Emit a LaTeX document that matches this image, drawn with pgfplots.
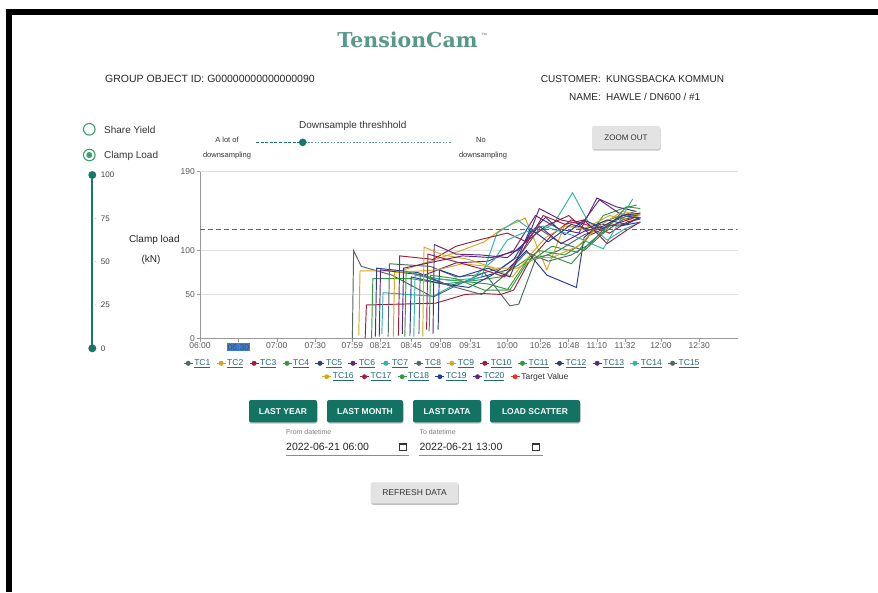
\documentclass[border=0pt]{standalone}
\usepackage{fontspec}
\setmainfont{Liberation Sans}
\newfontfamily\titlefont{DejaVu Serif Bold}
\usepackage{pgfplots}
\pgfplotsset{compat=1.18}
\definecolor{cA}{RGB}{84,104,104}
\definecolor{cB}{RGB}{218,165,32}
\definecolor{cC}{RGB}{160,30,60}
\definecolor{cD}{RGB}{50,155,60}
\definecolor{cE}{RGB}{40,60,150}
\definecolor{cF}{RGB}{95,40,125}
\definecolor{cG}{RGB}{50,180,170}
\definecolor{tgtred}{RGB}{235,45,45}
\definecolor{btn}{RGB}{18,115,98}
\definecolor{slider}{RGB}{25,118,105}
\definecolor{radio}{RGB}{60,160,110}
\definecolor{legtxt}{RGB}{35,105,120}
\definecolor{titlec}{RGB}{88,152,138}
\definecolor{hlblue}{RGB}{60,125,215}
\newcommand{\fs}[1]{\fontsize{#1}{#1}\selectfont}
\newcommand{\hlbox}[1]{{\setlength{\fboxsep}{1.2pt}\colorbox{hlblue}{\textcolor{black!70}{#1}}}}
\newcommand{\tc}[1]{\textcolor{legtxt}{\underline{TC#1}}}
\pgfplotsset{
  legend image code/.code={\draw[#1,solid,line width=0.8pt] (0pt,0pt) -- (9pt,0pt); \fill[#1,solid] (4.5pt,0pt) circle (2pt);},
  mylegend/.style={legend style={draw=none, fill=none, inner sep=0pt, row sep=0pt,
     font=\fs{8.5}, nodes={inner sep=1.2pt},
     /tikz/every even column/.append style={column sep=4.7pt}}}
}
\begin{document}
\begin{tikzpicture}
\useasboundingbox (0pt,0pt) rectangle (878pt,-592pt);
\fill[white] (0pt,0pt) rectangle (878pt,-592pt);
\begin{scope}[x=1pt,y=-1pt]
% frame
\fill[black] (6,9) rectangle (878,15);
\fill[black] (6,9) rectangle (12,592);
% title
\node[anchor=base, font=\titlefont\fs{20.5}, text=titlec, inner sep=0] at (407.5,47) {TensionCam};
\node[anchor=base west, font=\fs{6}, text=black!55, inner sep=0] at (481,37) {™};
% header
\node[anchor=base west, font=\fs{10.5}, text=black!85, inner sep=0] at (105,82.8) {GROUP OBJECT ID: G00000\relax 00000\relax 00000\relax 90};
\node[anchor=base east, font=\fs{10}, text=black!85, inner sep=0] at (601,82.6) {CUSTOMER:};
\node[anchor=base west, font=\fs{10}, text=black!85, inner sep=0] at (606,82.6) {KUNGSBACKA KOMMUN};
\node[anchor=base east, font=\fs{10}, text=black!85, inner sep=0] at (601,100.6) {NAME:};
\node[anchor=base west, font=\fs{10}, text=black!85, inner sep=0] at (606,100.6) {HAWLE / DN600 / \#1};
% radios
\draw[radio, line width=1.1pt] (89.3,129.3) circle (5.8pt);
\node[anchor=base west, font=\fs{10}, text=black!80, inner sep=0] at (104,133) {Share Yield};
\draw[radio, line width=1.1pt] (89.3,155) circle (5.8pt);
\fill[radio] (89.3,155) circle (3pt);
\node[anchor=base west, font=\fs{10}, text=black!80, inner sep=0] at (104,158.6) {Clamp Load};
% downsample slider
\node[anchor=base, font=\fs{10}, text=black!80, inner sep=0] at (352.7,128.6) {Downsample threshhold};
\node[anchor=base, font=\fs{7.5}, text=black!80, inner sep=0] at (227,142.7) {A lot of};
\node[anchor=base, font=\fs{7.5}, text=black!80, inner sep=0] at (227,157) {downsampling};
\node[anchor=base, font=\fs{7.5}, text=black!80, inner sep=0] at (481,142.7) {No};
\node[anchor=base, font=\fs{7.5}, text=black!80, inner sep=0] at (483,157) {downsampling};
\foreach \xx in {256,260.6,...,298} {\fill[slider] (\xx,141.5) rectangle (\xx+3,143.1);}
\foreach \xx in {305,308.2,...,450} {\fill[slider!75] (\xx,141.9) rectangle (\xx+1.6,142.7);}
\fill[slider] (302.7,142.3) circle (3.8pt);
% zoom out button
\fill[black!22, rounded corners=2pt] (592.5,127.5) rectangle (660.5,150.5);
\fill[black!11, rounded corners=2pt] (592,126) rectangle (660,149);
\node[font=\fs{8}, text=black!80] at (626,137.5) {ZOOM OUT};
% vertical slider
\draw[slider, line width=2.2pt] (92.3,175) -- (92.3,348.3);
\fill[slider] (92.3,175) circle (4pt);
\fill[slider] (92.3,348.3) circle (4pt);
\foreach \yy in {218.3,261.7,305} {\fill[slider!40] (95.2,\yy) circle (0.7pt);}
\node[anchor=base west, font=\fs{8}, text=black!75, inner sep=0] at (100.7,177.9) {100};
\node[anchor=base west, font=\fs{8}, text=black!75, inner sep=0] at (100.7,221.2) {75};
\node[anchor=base west, font=\fs{8}, text=black!75, inner sep=0] at (100.7,264.6) {50};
\node[anchor=base west, font=\fs{8}, text=black!75, inner sep=0] at (100.7,307.9) {25};
\node[anchor=base west, font=\fs{8}, text=black!75, inner sep=0] at (100.7,351.2) {0};
% y label
\node[anchor=base, font=\fs{10}, text=black!85, inner sep=0] at (154.3,242.9) {Clamp load};
\node[anchor=base, font=\fs{10}, text=black!85, inner sep=0] at (151,262.3) {(kN)};
% buttons
\foreach \xa/\xb/\lab in {249/317/LAST YEAR, 327/403/LAST MONTH, 413/481/LAST DATA, 490/580/LOAD SCATTER} {
  \fill[black!25, rounded corners=2pt] (\xa+0.5,401.5) rectangle (\xb+0.5,423.5);
  \fill[btn, rounded corners=2pt] (\xa,400) rectangle (\xb,422.3);
  \node[font=\bfseries\fs{8.5}, text=white] at ({(\xa+\xb)/2},411.2) {\lab};
}
% date fields
\node[anchor=base west, font=\fs{7}, text=black!50, inner sep=0] at (286,434) {From datetime};
\node[anchor=base west, font=\fs{10.5}, text=black!85, inner sep=0] at (286,450.5) {2022-06-21 06:00};
\draw[black!80, line width=0.9pt] (399.5,443) rectangle (406.5,450);
\fill[black!80] (399.5,443) rectangle (406.5,445);
\draw[black!45, line width=0.6pt] (286,455.7) -- (409.3,455.7);
\node[anchor=base west, font=\fs{7}, text=black!50, inner sep=0] at (419.3,434) {To datetime};
\node[anchor=base west, font=\fs{10.5}, text=black!85, inner sep=0] at (419.3,450.5) {2022-06-21 13:00};
\draw[black!80, line width=0.9pt] (532,443) rectangle (539,450);
\fill[black!80] (532,443) rectangle (539,445);
\draw[black!45, line width=0.6pt] (419.3,455.7) -- (542.7,455.7);
% refresh button
\fill[black!25, rounded corners=2pt] (371.2,483.8) rectangle (458.8,504.8);
\fill[black!11, rounded corners=2pt] (370.7,482.3) rectangle (458.3,503.3);
\node[font=\fs{8.5}, text=black!80] at (414.5,492.8) {REFRESH DATA};
\end{scope}

\begin{axis}[
  at={(200pt,-338.3pt)}, anchor=south west,
  width=537.7pt, height=166.6pt, scale only axis,
  xmin=0, xmax=420, ymin=0, ymax=190,
  axis x line*=bottom, axis y line*=left,
  axis line style={draw=black!40, -},
  ymajorgrids, grid style={draw=black!12, line width=0.6pt},
  ytick={0,50,100,190}, yticklabels={0,50,100,190},
  xtick={0,30,60,90,119,141,165,188,211,240,266,288,310,332,360,390},
  xticklabels={06:00,{\hlbox{06:30}},07:00,07:30,07:59,08:21,08:45,09:08,09:31,10:00,10:26,10:48,11:10,11:32,12:00,12:30},
  tick align=outside, major tick length=3.5pt,
  tick style={draw=black!40, line width=0.6pt},
  tick label style={font=\fs{8.5}, text=black!65},
  x tick label style={inner sep=1pt},
  y tick label style={inner sep=1.5pt},
  legend columns=15, mylegend,
  legend style={at={(axis description cs:0.45,-0.15)}, anchor=center},
  every axis plot/.append style={line width=0.95pt},
]
\addplot[cA] coordinates {(119,0)(120,100)(126,82)(150,72)(182,47)(200,60)(222,75)(242,37)(249,39)(262,90)(280,100)(300,118)(318,128)(332,130)(343,138)};
\addplot[cB] coordinates {(124,3)(125,77)(157,77)(180,88)(200,98)(222,110)(236,125)(254,137)(271,78)(285,130)(300,124)(315,120)(330,135)(343,142)};
\addplot[cC] coordinates {(129,0)(130,38)(184,40)(207,50)(221,51)(235,50)(245,55)(258,90)(275,118)(290,135)(305,128)(320,120)(334,133)(344,136)};
\addplot[cD] coordinates {(134,0)(135,68)(165,68)(190,62)(215,66)(235,70)(250,85)(265,100)(285,95)(300,110)(315,140)(330,148)(341,152)};
\addplot[cE] coordinates {(137,2)(138,80)(170,75)(195,60)(220,70)(240,78)(255,100)(271,72)(294,58)(300,115)(312,130)(328,128)(342,132)};
\addplot[cF] coordinates {(140,2)(141,78)(175,72)(200,86)(225,88)(245,100)(262,140)(280,125)(296,120)(310,160)(325,150)(340,145)};
\addplot[cG] coordinates {(142,5)(143,52)(182,48)(200,62)(220,70)(232,120)(248,135)(262,120)(276,130)(291,166)(305,128)(318,112)(332,125)(344,132)};
\addplot[cA] coordinates {(147,2)(148,85)(180,82)(200,70)(215,72)(235,80)(250,95)(265,125)(280,110)(300,100)(315,120)(330,135)(343,140)};
\addplot[cB] coordinates {(151,2)(152,75)(185,78)(205,85)(225,82)(244,70)(258,95)(270,115)(285,128)(300,125)(320,140)(335,135)(344,141)};
\addplot[cC] coordinates {(155,3)(156,94)(182,90)(200,105)(220,113)(240,120)(255,110)(270,128)(288,140)(305,118)(320,128)(340,138)};
\addplot[cD] coordinates {(160,2)(161,76)(185,68)(205,65)(225,62)(242,55)(255,85)(275,105)(295,98)(310,130)(325,138)(341,145)};
\addplot[cE] coordinates {(164,3)(165,70)(190,62)(210,58)(228,72)(245,90)(258,120)(270,138)(285,118)(300,135)(315,125)(330,140)(344,137)};
\addplot[cF] coordinates {(182,5)(183,107)(200,96)(220,95)(240,92)(255,110)(265,148)(282,135)(298,130)(312,158)(328,142)(342,140)};
\addplot[cG] coordinates {(167,2)(168,72)(195,66)(212,68)(230,90)(240,112)(252,120)(268,128)(290,118)(315,102)(338,159)};
\addplot[cA] coordinates {(171,5)(172,72)(195,60)(220,50)(238,72)(255,98)(272,88)(290,95)(305,108)(320,132)(335,140)(344,142)};
\addplot[cB] coordinates {(174,2)(175,104)(190,95)(210,90)(230,80)(248,80)(262,92)(275,92)(295,105)(312,128)(330,145)(343,140)};
\addplot[cC] coordinates {(177,10)(178,96)(198,88)(218,80)(238,70)(252,100)(268,140)(285,130)(300,135)(318,108)(332,122)(344,133)};
\addplot[cD] coordinates {(179,8)(180,72)(200,68)(222,55)(240,55)(256,90)(272,95)(290,85)(305,110)(318,125)(333,150)(344,148)};
\addplot[cE] coordinates {(186,10)(187,78)(203,70)(225,80)(242,70)(258,125)(272,110)(290,130)(302,125)(318,135)(333,130)(344,138)};
\addplot[cF] coordinates {(158,5)(159,80)(185,88)(205,94)(228,92)(248,100)(265,128)(282,108)(300,122)(315,128)(330,140)(344,143)};
\addplot[tgtred, line width=1.4pt, dash pattern=on 5pt off 3pt] coordinates {(0,124)(420,124)};
\legend{\tc{1},\tc{2},\tc{3},\tc{4},\tc{5},\tc{6},\tc{7},\tc{8},\tc{9},\tc{10},\tc{11},\tc{12},\tc{13},\tc{14},\tc{15}}
\end{axis}

\begin{axis}[
  at={(200pt,-338.3pt)}, anchor=south west,
  width=537.7pt, height=166.6pt, scale only axis,
  hide axis, xmin=0, xmax=1, ymin=0, ymax=1,
  legend columns=6, mylegend,
  legend style={at={(axis description cs:0.457,-0.2305)}, anchor=center},
]
\addlegendimage{cB, line width=0.8pt}\addlegendentry{\tc{16}}
\addlegendimage{cC, line width=0.8pt}\addlegendentry{\tc{17}}
\addlegendimage{cD, line width=0.8pt}\addlegendentry{\tc{18}}
\addlegendimage{cE, line width=0.8pt}\addlegendentry{\tc{19}}
\addlegendimage{cF, line width=0.8pt}\addlegendentry{\tc{20}}
\addlegendimage{tgtred, line width=0.8pt}\addlegendentry{\textcolor{black!80}{Target Value}}
\end{axis}
\end{tikzpicture}
\end{document}
